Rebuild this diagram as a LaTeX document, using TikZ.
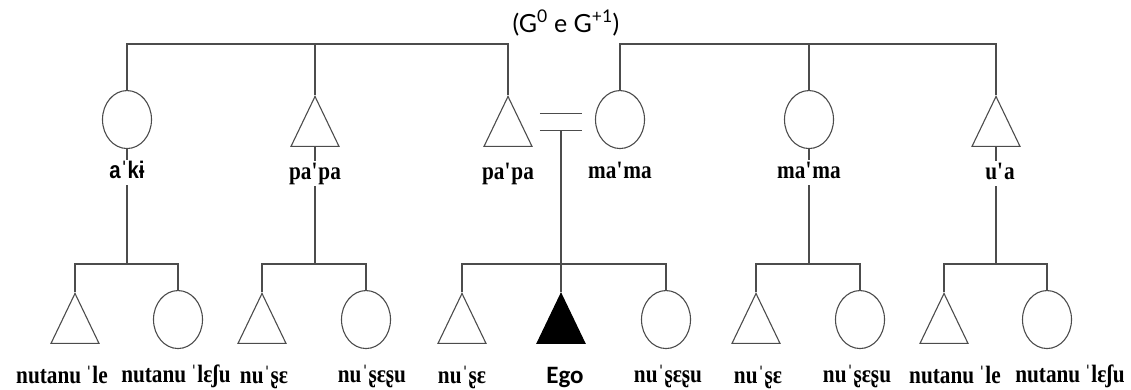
\documentclass[tikz,border=0pt]{standalone}
\usepackage{fontspec}
\newfontfamily\termfont{Liberation Serif}[FakeStretch=0.85]
\newfontfamily\kifont{Liberation Sans}[FakeStretch=0.85]
\newfontfamily\egofont{Carlito}
\newfontfamily\titlefont{Lato}
\usetikzlibrary{shapes.geometric, positioning}
\tikzstyle{male} = [isosceles triangle, shape border rotate=90, isosceles triangle stretches, minimum width=48pt, minimum height=50pt, inner sep=0pt, draw=black!70, line width=1.1pt]
\tikzstyle{female} = [ellipse, minimum width=49pt, minimum height=58pt, inner sep=0pt, draw=black!70, line width=1.1pt]
\tikzstyle{ego} = [male, fill=black, draw=black]
\tikzstyle{term} = [font=\termfont\bfseries\fontsize{25}{28}\selectfont, fill=white, inner sep=0.5pt, text height=18pt, text depth=6pt]
\tikzstyle{line} = [draw=black!70, line width=1.1pt]

\begin{document}
\begin{tikzpicture}[x=1pt, y=-1pt]
\useasboundingbox (0,0) rectangle (1131,390);
% Titolo
\node (title) at (566,23) {\titlefont\fontsize{25}{30}\selectfont (G\textsuperscript{0} e G\textsuperscript{+1})};

% Generazione G+1
\coordinate (top) at (0,44);
\node (aki) [female, anchor=north] at (127,90) {};
\node (papa1) [male, anchor=north] at (315,95) {};
\node (papa2) [male, anchor=north] at (508,95) {};
\node (mama1) [female, anchor=north] at (620,90) {};
\node (mama2) [female, anchor=north] at (809,90) {};
\node (ua) [male, anchor=north] at (996,95) {};
\node (wed) [minimum width=42pt, minimum height=16pt, inner sep=0pt] at (561,122) {};

% Generazione G0
\coordinate (bar) at (0,264);
\node (t1) [male, anchor=north] at (75,292) {};
\node (c1) [female, anchor=north] at (178,290) {};
\node (t2) [male, anchor=north] at (262,292) {};
\node (c2) [female, anchor=north] at (366,290) {};
\node (t3) [male, anchor=north] at (462,292) {};
\node (ego) [ego, anchor=north] at (561,292) {};
\node (c3) [female, anchor=north] at (666,290) {};
\node (t4) [male, anchor=north] at (756,292) {};
\node (c4) [female, anchor=north] at (860,290) {};
\node (t5) [male, anchor=north] at (944,292) {};
\node (c5) [female, anchor=north] at (1047,290) {};

% Linee
\draw [line] (aki.north) |- (papa2.north |- top) -- (papa2.north);
\draw [line] (papa1.north) -- (papa1.north |- top);
\draw [line] (mama1.north) |- (ua.north |- top) -- (ua.north);
\draw [line] (mama2.north) -- (mama2.north |- top);
\draw [line] (wed.north west) -- (wed.north east);
\draw [line] (wed.south west) -- (wed.south east);

\draw [line] (aki.south) -- (aki.south |- bar);
\draw [line] (t1.north) |- (c1.north |- bar) -- (c1.north);
\draw [line] (papa1.south) -- (papa1.south |- bar);
\draw [line] (t2.north) |- (c2.north |- bar) -- (c2.north);
\draw [line] (wed.south) -- (ego.north);
\draw [line] (t3.north) |- (c3.north |- bar) -- (c3.north);
\draw [line] (mama2.south) -- (mama2.south |- bar);
\draw [line] (t4.north) |- (c4.north |- bar) -- (c4.north);
\draw [line] (ua.south) -- (ua.south |- bar);
\draw [line] (t5.north) |- (c5.north |- bar) -- (c5.north);

% Nomi
\node (aki-l) [term, below=10.5pt of aki, font=\kifont\bfseries\fontsize{24}{28}\selectfont] {aˈkɨ};
\node (papa1-l) [term, below=13.5pt of papa1] {pa\textquotesingle pa};
\node (papa2-l) [term, below=13.5pt of papa2] {pa\textquotesingle pa};
\node (mama1-l) [term, below=10.5pt of mama1] {ma\textquotesingle ma};
\node (mama2-l) [term, below=10.5pt of mama2] {ma\textquotesingle ma};
\node (ua-l) [term, below=13.5pt of ua, xshift=4pt] {u\textquotesingle a};

\node (t1-l) [term, below=20.5pt of t1, xshift=-13pt] {nutanu\,ˈle};
\node (c1-l) [term, below=14.5pt of c1, xshift=-2pt] {nutanu\,ˈlɛʃu};
\node (t2-l) [term, below=20.5pt of t2, xshift=2pt] {nuˈʂɛ};
\node (c2-l) [term, below=14.5pt of c2, xshift=6pt] {nuˈʂɛʂu};
\node (t3-l) [term, below=20.5pt of t3] {nuˈʂɛ};
\node (ego-l) [term, below=20.5pt of ego, xshift=4pt, font=\egofont\bfseries\fontsize{25}{28}\selectfont] {Ego};
\node (c3-l) [term, below=14.5pt of c3, xshift=2pt] {nuˈʂɛʂu};
\node (t4-l) [term, below=20.5pt of t4, xshift=2pt] {nuˈʂɛ};
\node (c4-l) [term, below=14.5pt of c4, xshift=-3pt] {nuˈʂɛʂu};
\node (t5-l) [term, below=20.5pt of t5, xshift=11pt] {nutanu\,ˈle};
\node (c5-l) [term, below=14.5pt of c5, xshift=23pt] {nutanu\,ˈlɛʃu};
\end{tikzpicture}
\end{document}
